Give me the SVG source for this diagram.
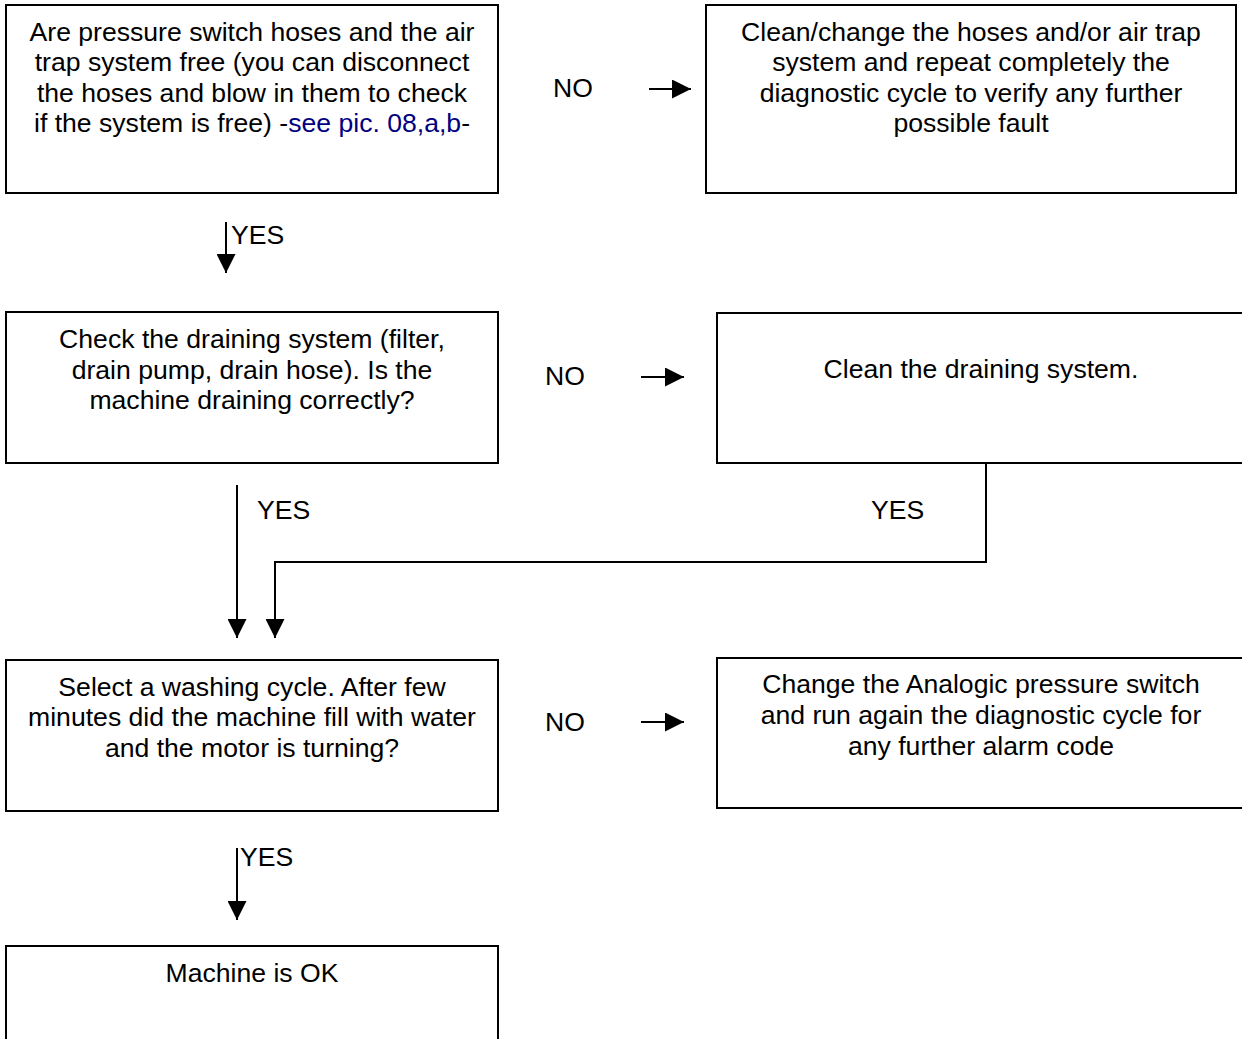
<svg xmlns="http://www.w3.org/2000/svg" width="1242" height="1039" viewBox="0 0 1242 1039">
<style>
.box{fill:#fff;stroke:#000;stroke-width:2}
.t{font-family:"Liberation Sans",Arial,sans-serif;font-size:26.6px;fill:#000}
.c{text-anchor:middle}
.ln{stroke:#000;stroke-width:2;fill:none}
.blue{fill:#000080}
</style>
<defs>
<marker id="ah" markerWidth="19" markerHeight="19" refX="19" refY="9.5" orient="auto" markerUnits="userSpaceOnUse" viewBox="0 0 19 19">
<path d="M0,0 L19,9.5 L0,19 z" fill="#000"/>
</marker>
</defs>
<rect width="1242" height="1039" fill="#fff"/>
<g id="n1">
<rect class="box" x="6" y="5" width="492" height="188"/>
<text class="t c" x="252" y="41">Are pressure switch hoses and the air</text>
<text class="t c" x="252" y="71">trap system free (you can disconnect</text>
<text class="t c" x="252" y="102">the hoses and blow in them to check</text>
<text class="t c" x="252" y="132">if the system is free) -<tspan class="blue">see pic. 08,a,b</tspan>-</text>
</g>
<g id="n2">
<rect class="box" x="706" y="5" width="530" height="188"/>
<text class="t c" x="971" y="41">Clean/change the hoses and/or air trap</text>
<text class="t c" x="971" y="71">system and repeat completely the</text>
<text class="t c" x="971" y="102">diagnostic cycle to verify any further</text>
<text class="t c" x="971" y="132">possible fault</text>
</g>
<g id="n3">
<rect class="box" x="6" y="312" width="492" height="151"/>
<text class="t c" x="252" y="348">Check the draining system (filter,</text>
<text class="t c" x="252" y="379">drain pump, drain hose). Is the</text>
<text class="t c" x="252" y="409">machine draining correctly?</text>
</g>
<g id="n4">
<path class="ln" d="M1243,313 H717 V463 H1243"/>
<text class="t c" x="981" y="378">Clean the draining system.</text>
</g>
<g id="n5">
<rect class="box" x="6" y="660" width="492" height="151"/>
<text class="t c" x="252" y="696">Select a washing cycle. After few</text>
<text class="t c" x="252" y="726">minutes did the machine fill with water</text>
<text class="t c" x="252" y="757">and the motor is turning?</text>
</g>
<g id="n6">
<path class="ln" d="M1243,658 H717 V808 H1243"/>
<text class="t c" x="981" y="693">Change the Analogic pressure switch</text>
<text class="t c" x="981" y="724">and run again the diagnostic cycle for</text>
<text class="t c" x="981" y="755">any further alarm code</text>
</g>
<g id="n7">
<path class="ln" d="M6,1040 V946 H498 V1040"/>
<text class="t c" x="252" y="982">Machine is OK</text>
</g>
<g id="connectors">
<line class="ln" x1="649" y1="89" x2="691" y2="89" marker-end="url(#ah)"/>
<text class="t" x="553" y="97">NO</text>
<line class="ln" x1="641" y1="377" x2="684" y2="377" marker-end="url(#ah)"/>
<text class="t" x="545" y="385">NO</text>
<line class="ln" x1="641" y1="722" x2="684" y2="722" marker-end="url(#ah)"/>
<text class="t" x="545" y="731">NO</text>
<line class="ln" x1="226" y1="222" x2="226" y2="273" marker-end="url(#ah)"/>
<text class="t" x="231" y="244">YES</text>
<line class="ln" x1="237" y1="485" x2="237" y2="638" marker-end="url(#ah)"/>
<text class="t" x="257" y="519">YES</text>
<path class="ln" d="M986,463 V562 H275 V638" marker-end="url(#ah)"/>
<text class="t" x="871" y="519">YES</text>
<line class="ln" x1="237" y1="848" x2="237" y2="920" marker-end="url(#ah)"/>
<text class="t" x="240" y="866">YES</text>
</g>
</svg>
